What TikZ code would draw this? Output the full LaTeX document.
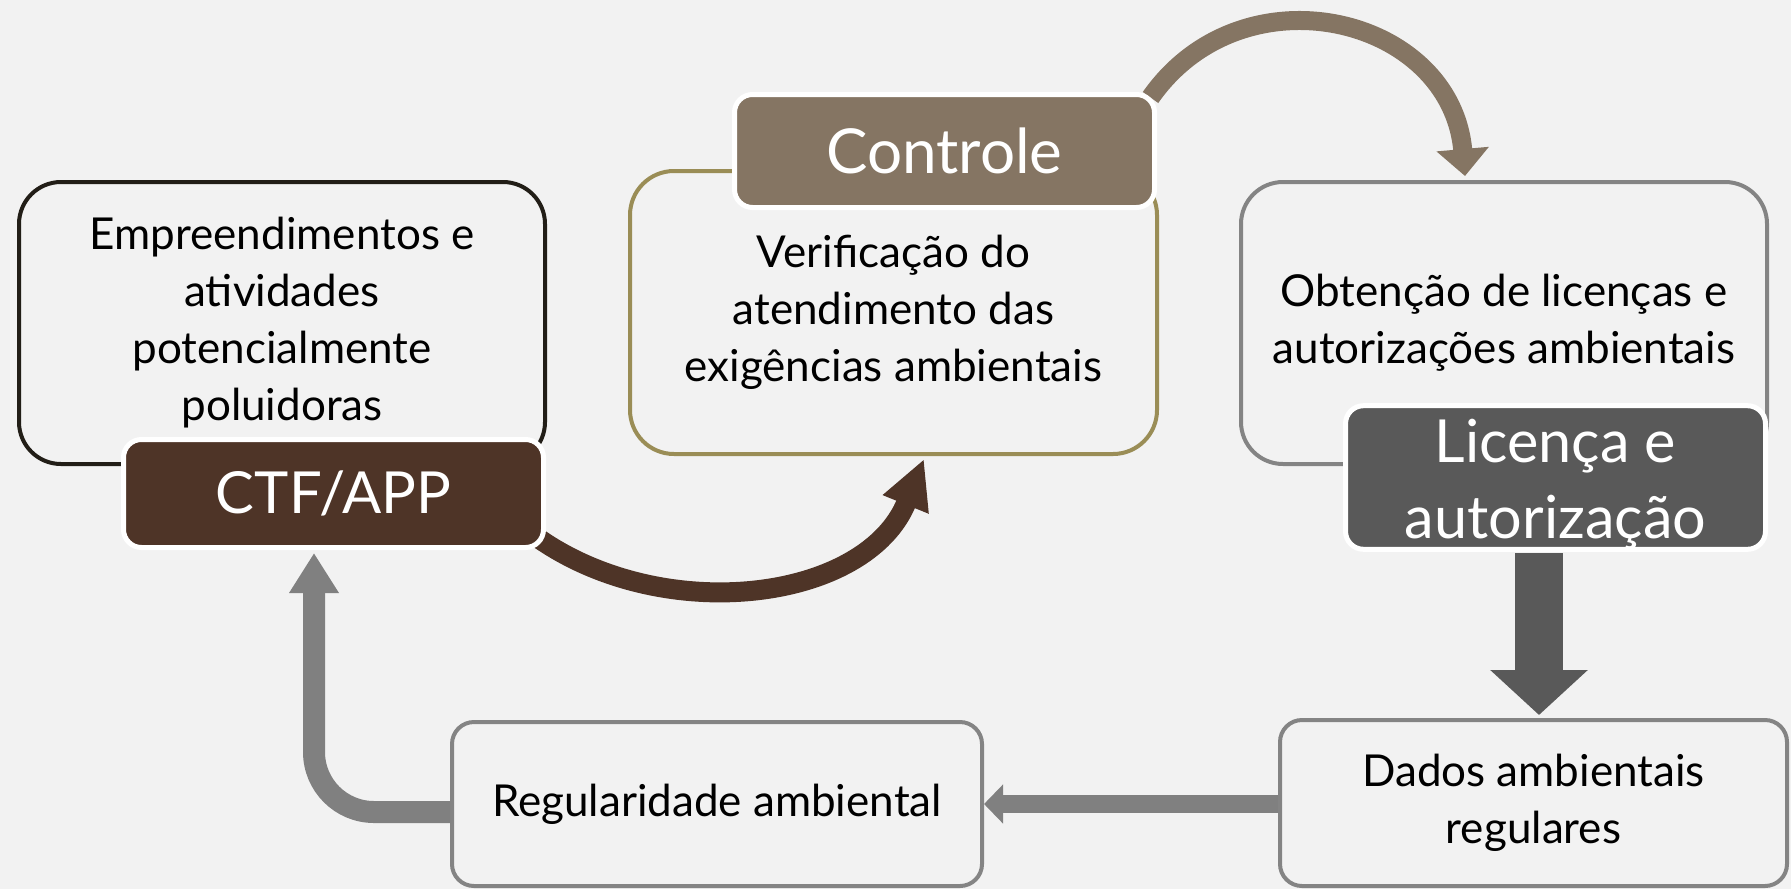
\documentclass[tikz,border=0pt]{standalone}
\usepackage{fontspec}
\setmainfont{Lato}
\usetikzlibrary{arrows.meta}
\definecolor{bg}{HTML}{F2F2F2}
\definecolor{darkline}{HTML}{221E17}
\definecolor{ctfbrown}{HTML}{4E3427}
\definecolor{olive}{HTML}{9A8D56}
\definecolor{ctrlbrown}{HTML}{857563}
\definecolor{midgray}{HTML}{848484}
\definecolor{arrgray}{HTML}{808080}
\definecolor{licgray}{HTML}{595959}
\begin{document}
\begin{tikzpicture}[x=0.5pt,y=-0.5pt,
  mainbox/.style={draw, line width=2pt, rounded corners=21pt, fill=bg, align=center,
    inner sep=0pt, text=black, font=\fontsize{22}{28.5}\selectfont},
  lowbox/.style={mainbox, draw=midgray, rounded corners=11pt},
  labelbox/.style={draw=white, line width=2.5pt, rounded corners=9pt, align=center,
    inner sep=0pt, text=white, minimum width=210pt},
  ctffont/.style={font=\fontsize{29}{36}\selectfont},
  ctrlfont/.style={font=\fontsize{31}{38}\selectfont},
  licfont/.style={font=\fontsize{29.7}{38}\selectfont},
]
\fill[bg] (0,0) rectangle (1791,889);
\useasboundingbox (0,0) rectangle (1791,889);

% main boxes
\node[mainbox, draw=darkline, minimum width=263pt, minimum height=141pt] (emp) at (282,323)
  {Empreendimentos e\\atividades\\potencialmente\\poluidoras};
\node[mainbox, draw=olive, rounded corners=22pt, minimum width=263.5pt, minimum height=141.5pt] (verif) at (893.5,312.5)
  {Verificação do\\atendimento das\\exigências ambientais};
\node[mainbox, draw=midgray, minimum width=263pt, minimum height=141pt] (obt) at (1504,323)
  {Obtenção de licenças e\\autorizações ambientais};
\node[lowbox, minimum width=253.5pt, minimum height=83pt] (dados) at (1533.5,803)
  {Dados ambientais\\regulares};
\node[lowbox, minimum width=265pt, minimum height=82pt] (reg) at (717,804)
  {Regularidade ambiental};

% connectors
\draw[ctrlbrown, line width=9.5pt, -{Triangle[length=13.5pt, width=25.5pt]}]
  ([xshift=-4.25pt, yshift=-2.75pt]verif.north east |- 0,92) coordinate (topstart)
  to[out=55, in=95, looseness=1.27] ([xshift=-19.5pt, yshift=2pt]obt.north);
\draw[ctfbrown, line width=10pt, -{Triangle[length=24.5pt, width=23pt]}]
  (538,538) coordinate (brstart)
  to[out=-35, in=-112] ([xshift=15.25pt, yshift=-1.5pt]verif.south);
\draw[licgray, line width=24pt, -{Triangle[length=22.5pt, width=47.5pt]}]
  (1539,553) coordinate (dnstart) -- ([xshift=2.75pt, yshift=1.5pt]dados.north);
\draw[arrgray, line width=9pt, -{Triangle[length=9.5pt, width=19pt]}]
  ([yshift=-0.5pt]dados.west) -- ([yshift=-0.5pt]dados.west -| reg.east);
\draw[arrgray, line width=11pt, rounded corners=30pt, -{Triangle[length=20pt, width=23.5pt]}]
  ([yshift=-4pt]reg.west) -| (314,553) coordinate (uptip);

% label boxes
\node[labelbox, fill=ctrlbrown, ctrlfont, minimum height=56.5pt] (ctrl) at (944.5,151) {Controle};
\node[labelbox, fill=ctfbrown, ctffont, minimum height=54pt] (ctf) at (333.5,493.5) {CTF/APP};
\node[labelbox, fill=licgray, licfont, minimum height=70pt] (lic) at (1555.5,477.5)
  {\rule{0pt}{28.5pt}Licença e\\autorização};
\end{tikzpicture}
\end{document}
